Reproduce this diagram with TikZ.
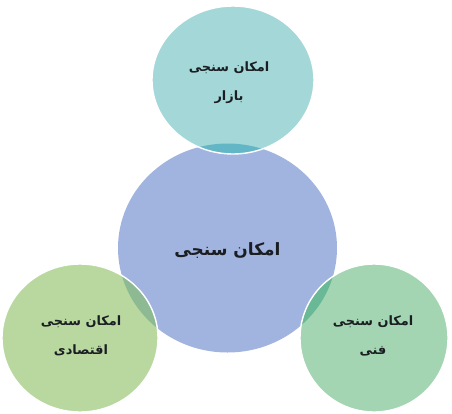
\documentclass[tikz,border=0pt]{standalone}
\usepackage{fontspec}
\newfontfamily\arabicfont[Script=Arabic]{DejaVu Sans}
\TeXXeTstate=1
\definecolor{centreblue}{RGB}{161,179,223}
\definecolor{marketteal}{RGB}{164,216,216}
\definecolor{marketlens}{RGB}{98,182,198}
\definecolor{econgreen}{RGB}{184,216,160}
\definecolor{econlens}{RGB}{141,186,146}
\definecolor{techgreen}{RGB}{163,213,178}
\definecolor{techlens}{RGB}{106,185,150}
\definecolor{labelink}{RGB}{26,30,34}
\begin{document}
\begin{tikzpicture}[scale=0.03]
    \tikzstyle{every node}+=[inner sep=0pt, align=center, text=labelink]
    \tikzstyle{small label}=[font=\arabicfont\bfseries\fontsize{11}{24.5}\selectfont]
    \tikzstyle{big label}=[font=\arabicfont\bfseries\fontsize{14.5}{20}\selectfont]
    \useasboundingbox (0,0) rectangle (452,-413);
    \fill [centreblue] (227.5,-248) ellipse (109.5 and 104.5);
    \fill [marketteal] (233,-80) ellipse (81 and 74);
    \fill [econgreen] (80,-338) ellipse (78 and 74);
    \fill [techgreen] (374,-338) ellipse (74 and 74);
    \begin{scope}
    \clip (227.5,-248) ellipse (109.5 and 104.5);
    \fill [marketlens] (233,-80) ellipse (81 and 74);
    \fill [econlens] (80,-338) ellipse (78 and 74);
    \fill [techlens] (374,-338) ellipse (74 and 74);
    \end{scope}
    \draw [white, line width=1.2pt] (233,-80) ellipse (81 and 74);
    \draw [white, line width=1.2pt] (80,-338) ellipse (78 and 74);
    \draw [white, line width=1.2pt] (374,-338) ellipse (74 and 74);
    \node (feasibility) [big label] at (227.5,-251) {\beginR امکان سنجی\endR};
    \node (market) [small label] at (229,-83) {\beginR امکان سنجی\endR\\\beginR بازار\endR};
    \node (economic) [small label] at (81,-336) {\beginR امکان سنجی\endR\\\beginR اقتصادی\endR};
    \node (technical) [small label] at (373,-336) {\beginR امکان سنجی\endR\\\beginR فنی\endR};
\end{tikzpicture}
\end{document}
